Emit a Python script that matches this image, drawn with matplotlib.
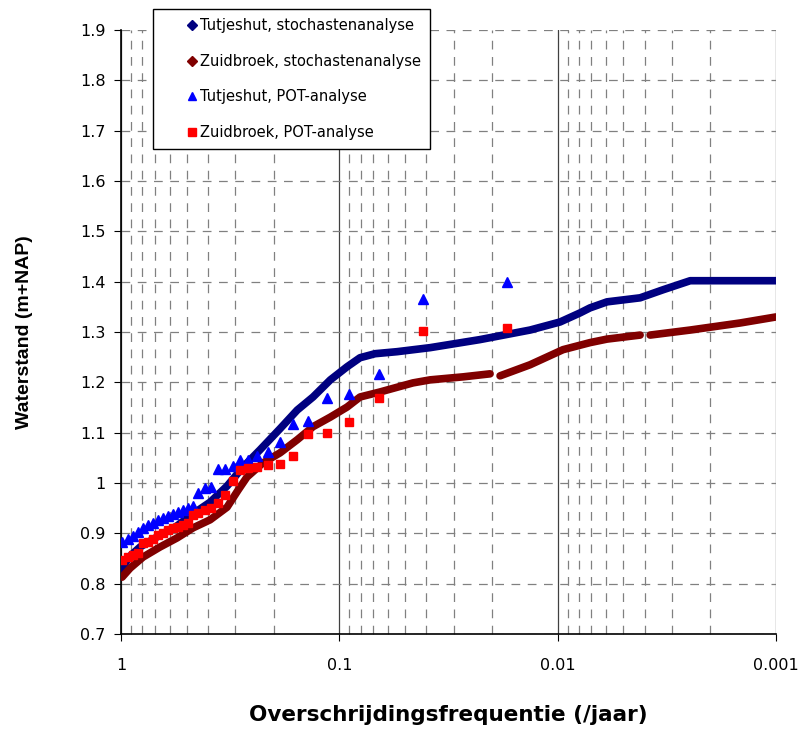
import numpy as np
import matplotlib
matplotlib.use("Agg")
from matplotlib import pyplot as plt
from matplotlib.lines import Line2D
from matplotlib.ticker import FixedLocator, FuncFormatter, LogLocator, NullFormatter

# stochastenanalyse, Tutjeshut (freq /jaar, waterstand m+NAP)
freq_tut = [1.0, 0.909, 0.818, 0.684, 0.554, 0.468, 0.391, 0.327, 0.276, 0.231,
            0.187, 0.156, 0.132, 0.110, 0.0922, 0.0804, 0.0686, 0.0544, 0.0384,
            0.0227, 0.01338, 0.00975, 0.0079, 0.00711, 0.00594, 0.00419, 0.00329,
            0.00247, 0.001]
wl_tut = [0.829, 0.855, 0.873, 0.893, 0.915, 0.939, 0.962, 0.994, 1.032, 1.066,
          1.108, 1.145, 1.171, 1.205, 1.231, 1.249, 1.257, 1.261, 1.269,
          1.285, 1.304, 1.320, 1.338, 1.348, 1.360, 1.368, 1.384,
          1.402, 1.402]

# stochastenanalyse, Zuidbroek (nan = gap in the curve)
freq_zb = [0.9895, 0.909, 0.793, 0.663, 0.554, 0.468, 0.391, 0.327, 0.291, 0.265,
           0.224, 0.187, 0.156, 0.132, 0.110, 0.0922, 0.0804, 0.0651, 0.046, 0.0384,
           0.0271, 0.0204, 0.0195, 0.01836, 0.01338, 0.00945, 0.00711, 0.00594,
           0.00419, 0.004, 0.00377, 0.00247, 0.00146, 0.001]
wl_zb = [0.813, 0.831, 0.853, 0.873, 0.891, 0.911, 0.927, 0.952, 0.986, 1.012,
         1.040, 1.060, 1.086, 1.112, 1.131, 1.151, 1.171, 1.181, 1.199, 1.205,
         1.211, 1.217, np.nan, 1.213, 1.235, 1.265, 1.279, 1.286,
         1.294, np.nan, 1.294, 1.304, 1.318, 1.330]

# POT-analyse, same plotting positions for both stations
freq_pot = [0.9895, 0.929, 0.881, 0.836, 0.793, 0.752, 0.713, 0.677, 0.642, 0.609,
            0.578, 0.548, 0.520, 0.493, 0.468, 0.444, 0.412, 0.387, 0.359, 0.334,
            0.307, 0.285, 0.262, 0.238, 0.212, 0.187, 0.163, 0.139, 0.114,
            0.0903, 0.0658, 0.0414, 0.0171]
wl_pot_tut = [0.883, 0.889, 0.895, 0.903, 0.910, 0.916, 0.921, 0.926, 0.931, 0.935,
              0.939, 0.943, 0.947, 0.951, 0.955, 0.980, 0.990, 0.992, 1.028, 1.028,
              1.034, 1.046, 1.046, 1.054, 1.062, 1.082, 1.117, 1.123, 1.169,
              1.177, 1.217, 1.366, 1.400]
wl_pot_zb = [0.847, 0.853, 0.857, 0.861, 0.881, 0.883, 0.889, 0.897, 0.901, 0.907,
             0.911, 0.913, 0.917, 0.921, 0.937, 0.941, 0.947, 0.950, 0.960, 0.976,
             1.004, 1.026, 1.030, 1.032, 1.036, 1.038, 1.054, 1.098, 1.100,
             1.121, 1.169, 1.302, 1.308]

labels = ["Tutjeshut, stochastenanalyse", "Zuidbroek, stochastenanalyse",
          "Tutjeshut, POT-analyse", "Zuidbroek, POT-analyse"]

navy = "#000080"
darkred = "#800000"
blue = "#0000FF"
red = "#FF0000"

fig = plt.figure(figsize=(8.02, 7.33), dpi=100)
ax = fig.add_axes([0.151, 0.135, 0.8165, 0.824])

# dense diamond chains drawn as thick lines
ax.plot(freq_tut, wl_tut, color=navy, lw=5.5, solid_capstyle="round",
        solid_joinstyle="round", zorder=3)
ax.plot(freq_zb, wl_zb, color=darkred, lw=5.5, solid_capstyle="round",
        solid_joinstyle="round", zorder=3)
ax.plot(freq_pot, wl_pot_tut, ls="none", marker="^", ms=6.5, color=blue,
        mec=blue, zorder=4)
ax.plot(freq_pot, wl_pot_zb, ls="none", marker="s", ms=6, color=red,
        mec=red, zorder=4)

ax.set_xscale("log")
ax.set_xlim(1, 0.001)
ax.set_ylim(0.7, 1.9)

ax.xaxis.set_major_locator(FixedLocator([1, 0.1, 0.01, 0.001]))
ax.xaxis.set_major_formatter(FuncFormatter(lambda v, p: "%g" % v))
ax.xaxis.set_minor_locator(LogLocator(base=10, subs=np.arange(2, 10), numticks=20))
ax.xaxis.set_minor_formatter(NullFormatter())
ax.yaxis.set_major_locator(FixedLocator(np.round(np.arange(0.7, 1.91, 0.1), 1)))
ax.yaxis.set_major_formatter(FuncFormatter(lambda v, p: "%g" % round(v, 1)))

ax.grid(True, which="major", axis="x", color="#404040", lw=0.9, ls="-")
ax.grid(True, which="minor", axis="x", color="#808080", lw=0.9, ls=(0, (7, 6)))
ax.grid(True, which="major", axis="y", color="#808080", lw=0.9, ls=(0, (7, 6)))
ax.set_axisbelow(True)

for s in ["top", "right"]:
    ax.spines[s].set_visible(False)
ax.spines["left"].set_linewidth(1.2)
ax.spines["bottom"].set_linewidth(1.2)

ax.tick_params(axis="both", which="major", direction="out", length=5,
               labelsize=11.5, colors="black", pad=6)
ax.tick_params(axis="x", which="major", pad=12)
ax.tick_params(axis="x", which="minor", direction="in", length=4, color="#808080")

ax.set_xlabel("Overschrijdingsfrequentie (/jaar)", fontsize=15.5,
              fontweight="bold", labelpad=23)
ax.set_ylabel("Waterstand (m+NAP)", fontsize=14, fontweight="bold",
              family="Liberation Sans", labelpad=34)

handles = [
    Line2D([], [], ls="none", marker="D", ms=5, color=navy),
    Line2D([], [], ls="none", marker="D", ms=5, color=darkred),
    Line2D([], [], ls="none", marker="^", ms=6, color=blue),
    Line2D([], [], ls="none", marker="s", ms=6, color=red),
]
leg = fig.legend(handles, labels, loc="upper left",
                 bbox_to_anchor=(152.5 / 802, 1 - 9.5 / 733),
                 bbox_transform=fig.transFigure, fontsize=10.5,
                 frameon=True, fancybox=False, framealpha=1,
                 edgecolor="black", labelspacing=1.4, handlelength=4.2,
                 handletextpad=-1.56, borderpad=0.61, borderaxespad=0)
leg.get_frame().set_linewidth(1.0)

fig.savefig("out.png", dpi=100)
